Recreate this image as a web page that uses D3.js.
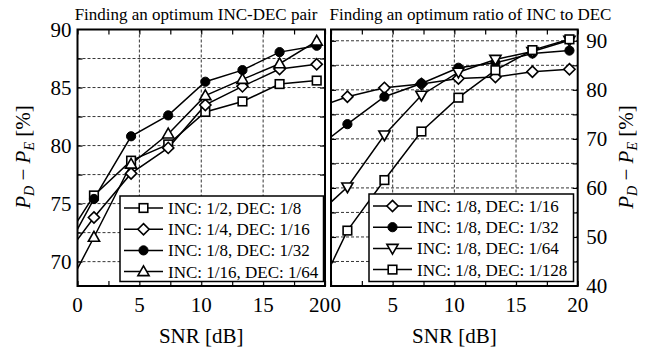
<!DOCTYPE html>
<html><head><meta charset="utf-8">
<script src="https://cdn.jsdelivr.net/npm/d3@7"></script>
<style>
html,body{margin:0;padding:0;background:#fff;}
</style></head>
<body><svg id="c" width="646" height="348" font-family="Liberation Serif, Times New Roman, DejaVu Serif, serif"></svg>
<script>
// ---- data ----
const snr = [0, 1.33, 4.33, 7.33, 10.33, 13.33, 16.33, 19.33];
const xTicks = [0, 5, 10, 15, 20];
const leftYTicks = [70, 75, 80, 85, 90];
const rightYTicks = [40, 50, 60, 70, 80, 90];
const leftTitle = "Finding an optimum INC-DEC pair";
const rightTitle = "Finding an optimum ratio of INC to DEC";
const xLabel = "SNR [dB]";

const leftNames = ["INC: 1/2, DEC: 1/8", "INC: 1/4, DEC: 1/16", "INC: 1/8, DEC: 1/32", "INC: 1/16, DEC: 1/64"];
const leftMarkers = ["square", "diamond", "circle", "triangle"];
const inc2dec8   = [73.5, 75.7, 78.7, 80.1, 82.9, 83.8, 85.3, 85.6];
const inc4dec16  = [71.9, 73.8, 77.6, 79.8, 83.5, 85.1, 86.6, 87.0];
const inc8dec32  = [72.8, 75.4, 80.8, 82.6, 85.5, 86.5, 88.05, 88.6];
const inc16dec64 = [69.4, 72.1, 78.4, 81.0, 84.3, 85.7, 87.05, 89.0];

const rightNames = ["INC: 1/8, DEC: 1/16", "INC: 1/8, DEC: 1/32", "INC: 1/8, DEC: 1/64", "INC: 1/8, DEC: 1/128"];
const rightMarkers = ["diamond", "circle", "triangleDown", "square"];
const r16  = [77.4, 78.6, 80.4, 81.2, 82.3, 82.6, 83.7, 84.2];
const r32  = [70.4, 73.0, 78.6, 81.3, 84.5, 85.5, 87.4, 88.0];
const r64  = [57.1, 60.2, 70.8, 78.9, 83.6, 86.2, 87.8, 90.1];
const r128 = [44.3, 51.3, 61.6, 71.5, 78.4, 84.0, 88.1, 90.3];

const leftSeries = [inc2dec8, inc4dec16, inc8dec32, inc16dec64];
const rightSeries = [r16, r32, r64, r128];

// ---- drawing ----
const FONT = "Liberation Serif, Times New Roman, DejaVu Serif, serif";
const svg = d3.select("#c");
const plotTop = 29.5, plotBottom = 286;

function marker(g, type, x, y) {
  if (type === "circle") {
    g.append("circle").attr("cx", x).attr("cy", y).attr("r", 4.6).attr("fill", "#000").attr("stroke", "#000").attr("stroke-width", 1);
  } else if (type === "square") {
    g.append("rect").attr("x", x - 4.3).attr("y", y - 4.3).attr("width", 8.6).attr("height", 8.6)
      .attr("fill", "#fff").attr("stroke", "#000").attr("stroke-width", 1.6);
  } else if (type === "diamond") {
    const s = 5.6;
    g.append("path").attr("d", `M${x},${y - s}L${x + s},${y}L${x},${y + s}L${x - s},${y}Z`)
      .attr("fill", "#fff").attr("stroke", "#000").attr("stroke-width", 1.6);
  } else if (type === "triangle") {
    g.append("path").attr("d", `M${x},${y - 5.8}L${x + 5.6},${y + 4}L${x - 5.6},${y + 4}Z`)
      .attr("fill", "#fff").attr("stroke", "#000").attr("stroke-width", 1.6);
  } else if (type === "triangleDown") {
    g.append("path").attr("d", `M${x},${y + 5.8}L${x + 5.6},${y - 4}L${x - 5.6},${y - 4}Z`)
      .attr("fill", "#fff").attr("stroke", "#000").attr("stroke-width", 1.6);
  }
}

function txt(g) { return g.append("text").attr("font-family", FONT).attr("fill", "#000"); }

function panel(opt) {
  const x = d3.scaleLinear().domain([0, 20]).range([opt.x0, opt.x1]);
  const y = d3.scaleLinear().domain(opt.yDomain).range([plotBottom, plotTop]);
  const g = svg.append("g");
  const id = "clip" + opt.id;
  svg.append("defs").append("clipPath").attr("id", id)
    .append("rect").attr("x", opt.x0).attr("y", plotTop).attr("width", opt.x1 - opt.x0).attr("height", plotBottom - plotTop);

  // grid
  const grid = g.append("g").attr("stroke", "#000").attr("stroke-width", 0.8).attr("stroke-dasharray", "3,2");
  [5, 10, 15].forEach(v => grid.append("line").attr("x1", x(v)).attr("x2", x(v)).attr("y1", plotTop).attr("y2", plotBottom));
  opt.gridY.forEach(v => grid.append("line").attr("x1", opt.x0).attr("x2", opt.x1).attr("y1", y(v)).attr("y2", y(v)));

  // axes with inward ticks on all sides
  const xMinor = d3.range(0, 20.01, 2.5);
  const axB = d3.axisBottom(x).tickValues(xMinor).tickSizeInner(-5).tickSizeOuter(0).tickFormat("");
  const axT = d3.axisTop(x).tickValues(xMinor).tickSizeInner(-5).tickSizeOuter(0).tickFormat("");
  g.append("g").attr("transform", `translate(0,${plotBottom})`).call(axB);
  g.append("g").attr("transform", `translate(0,${plotTop})`).call(axT);
  const axL = d3.axisLeft(y).tickValues(opt.gridY).tickSizeInner(-5).tickSizeOuter(0).tickFormat("");
  const axR = d3.axisRight(y).tickValues(opt.gridY).tickSizeInner(-5).tickSizeOuter(0).tickFormat("");
  g.append("g").attr("transform", `translate(${opt.x0},0)`).call(axL);
  g.append("g").attr("transform", `translate(${opt.x1},0)`).call(axR);
  g.selectAll(".domain").remove();
  g.selectAll(".tick line").attr("stroke", "#000").attr("stroke-width", 1.2);

  // x tick labels
  xTicks.forEach(d => {
    const t = txt(g).attr("y", 312).attr("font-size", 21).text(d);
    if (d === 20 && opt.id === "L") t.attr("x", x(d) + 5).attr("text-anchor", "end");
    else if (d === 0 && opt.id === "R") t.attr("x", x(d) - 0.5).attr("text-anchor", "start");
    else t.attr("x", x(d)).attr("text-anchor", "middle");
  });
  // y tick labels
  opt.yTicks.forEach(d => {
    txt(g).attr("x", opt.labelSide === "left" ? opt.x0 - 6 : opt.x1 + 8.5)
      .attr("y", d => 0).attr("y", y(d) + 7).attr("text-anchor", opt.labelSide === "left" ? "end" : "start")
      .attr("font-size", 21).text(d);
  });

  // series
  const line = d3.line().x((d, i) => x(snr[i])).y(d => y(d));
  const sg = g.append("g").attr("clip-path", `url(#${id})`);
  opt.series.forEach(s => {
    sg.append("path").attr("d", line(s)).attr("fill", "none").attr("stroke", "#000").attr("stroke-width", 1.5);
  });
  const mg = g.append("g");
  opt.series.forEach((s, k) => {
    s.forEach((v, i) => { if (i > 0) marker(mg, opt.markers[k], x(snr[i]), y(v)); });
  });

  // frame
  g.append("rect").attr("x", opt.x0).attr("y", plotTop).attr("width", opt.x1 - opt.x0).attr("height", plotBottom - plotTop)
    .attr("fill", "none").attr("stroke", "#000").attr("stroke-width", 2);

  // legend
  const lg = g.append("g");
  lg.append("rect").attr("x", opt.leg.x).attr("y", opt.leg.y).attr("width", opt.leg.w).attr("height", opt.leg.h)
    .attr("fill", "#fff").attr("stroke", "#000").attr("stroke-width", 1.5);
  opt.names.forEach((n, k) => {
    const yy = opt.leg.y + 12 + k * 21.2;
    lg.append("line").attr("x1", opt.leg.x + 4).attr("x2", opt.leg.x + 43).attr("y1", yy).attr("y2", yy)
      .attr("stroke", "#000").attr("stroke-width", 1.5);
    marker(lg, opt.markers[k], opt.leg.x + 23.5, yy);
    txt(lg).attr("x", opt.leg.x + 48).attr("y", yy + 6).attr("font-size", 17).text(n);
  });

  // title
  txt(g).attr("x", opt.titleX).attr("y", 20).attr("text-anchor", "middle")
    .attr("font-size", 17).text(opt.title);

  // x label
  txt(g).attr("x", (opt.x0 + opt.x1) / 2).attr("y", 343).attr("text-anchor", "middle")
    .attr("font-size", 21).text(xLabel);

  // y label
  const yl = txt(g).attr("transform", `translate(${opt.ylabX},157) rotate(-90)`)
    .attr("text-anchor", "middle").attr("font-size", 21);
  yl.append("tspan").attr("font-style", "italic").text("P");
  yl.append("tspan").attr("font-style", "italic").attr("font-size", 14).attr("dy", 4).text("D");
  yl.append("tspan").attr("dy", -4).text(" − ");
  yl.append("tspan").attr("font-style", "italic").text("P");
  yl.append("tspan").attr("font-style", "italic").attr("font-size", 14).attr("dy", 4).text("E");
  yl.append("tspan").attr("dy", -4).text(" [%]");
}

panel({
  id: "L", x0: 77.5, x1: 325, yDomain: [67.9, 90], yTicks: leftYTicks,
  gridY: [70, 72.5, 75, 77.5, 80, 82.5, 85, 87.5], labelSide: "left",
  series: leftSeries, markers: leftMarkers, names: leftNames,
  leg: { x: 120, y: 196, w: 203.5, h: 85.5 }, title: leftTitle, titleX: 196, ylabX: 30
});
panel({
  id: "R", x0: 331, x1: 577.7, yDomain: [40, 92.3], yTicks: rightYTicks,
  gridY: [45, 50, 55, 60, 65, 70, 75, 80, 85, 90], labelSide: "right",
  series: rightSeries, markers: rightMarkers, names: rightNames,
  leg: { x: 369, y: 194, w: 204.5, h: 87.5 }, title: rightTitle, titleX: 470.5, ylabX: 633
});
</script></body></html>
